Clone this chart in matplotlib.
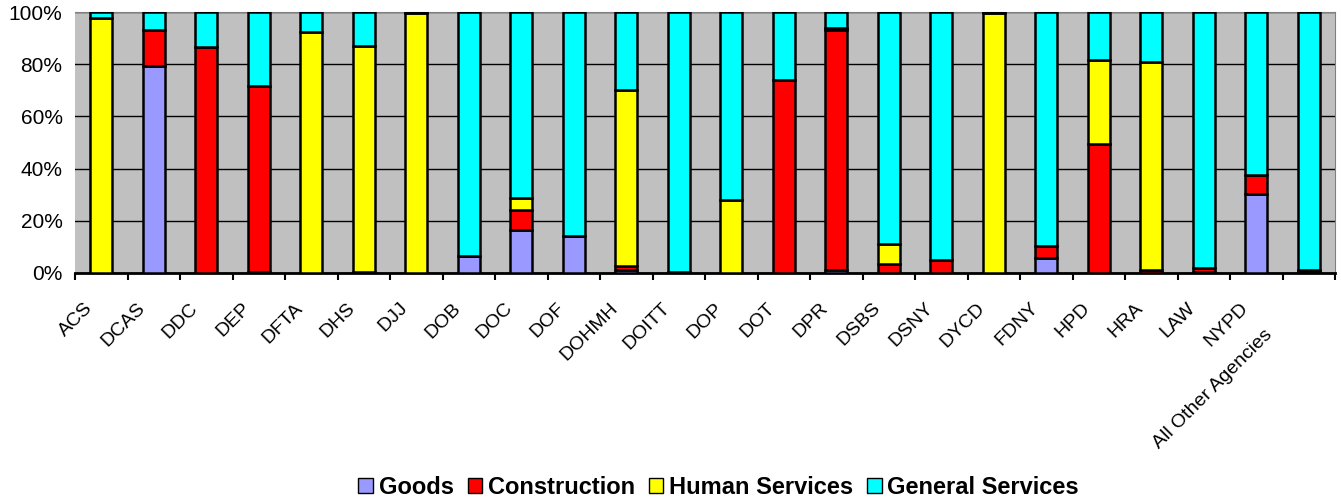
import numpy as np
import matplotlib
matplotlib.use("Agg")
import matplotlib.pyplot as plt
from matplotlib.patches import Patch
from matplotlib.transforms import ScaledTranslation

plt.rcParams['font.family'] = ['Liberation Sans', 'DejaVu Sans']

agencies = ['ACS', 'DCAS', 'DDC', 'DEP', 'DFTA', 'DHS', 'DJJ', 'DOB', 'DOC', 'DOF',
            'DOHMH', 'DOITT', 'DOP', 'DOT', 'DPR', 'DSBS', 'DSNY', 'DYCD', 'FDNY',
            'HPD', 'HRA', 'LAW', 'NYPD', 'All Other Agencies']

# share of each procurement type, percent
goods = [0, 79.3, 0, 0.5, 0, 0.5, 0, 6.6, 16.6, 14.3,
         1.0, 0.5, 0, 0, 1.3, 0, 0, 0, 5.9,
         0, 0, 0.5, 30.4, 0.5]
construction = [0, 13.8, 86.4, 71.2, 0, 0, 0, 0, 7.6, 0,
                1.6, 0, 0, 74.0, 91.8, 3.6, 5.1, 0, 4.6,
                49.5, 1.3, 1.5, 7.0, 0.5]
human = [97.6, 0, 0, 0, 92.3, 86.5, 99.7, 0, 4.6, 0,
         67.6, 0, 28.1, 0, 0.6, 7.6, 0, 99.7, 0,
         32.1, 79.6, 0, 0, 0.3]
general = [2.4, 6.9, 13.6, 28.3, 7.7, 13.0, 0.3, 93.4, 71.2, 85.7,
           29.8, 99.5, 71.9, 26.0, 6.3, 88.8, 94.9, 0.3, 89.5,
           18.4, 19.1, 98.0, 62.6, 98.7]

series = [('Goods', goods, '#9999FF'),
          ('Construction', construction, '#FF0000'),
          ('Human Services', human, '#FFFF00'),
          ('General Services', general, '#00FFFF')]

fig = plt.figure(figsize=(13.41, 5.0), dpi=100)
ax = fig.add_axes([75 / 1341, 1 - 273 / 500, 1260 / 1341, 261 / 500])
ax.set_facecolor('#C0C0C0')

x = np.arange(len(agencies))
bottom = np.zeros(len(agencies))
handles = []
for name, vals, col in series:
    vals = np.array(vals)
    ax.bar(x, vals, 0.42, bottom=bottom, color=col, edgecolor='black',
           linewidth=1.8, zorder=3)
    bottom += vals
    handles.append(Patch(facecolor=col, edgecolor='black', linewidth=1, label=name))

ax.set_xlim(-0.5, len(agencies) - 0.5)
ax.set_ylim(0, 100)
ax.set_yticks(range(0, 101, 20))
ax.set_yticklabels([f'{v}%' for v in range(0, 101, 20)], fontsize=15)
ax.yaxis.grid(True, color='black', linewidth=1, zorder=1)
ax.tick_params(axis='y', length=0, pad=9)

ax.set_xticks(x)
ax.set_xticklabels(agencies, rotation=45, ha='right', rotation_mode='anchor',
                   fontsize=14)
ax.set_xticks(np.arange(-0.5, len(agencies)), minor=True)
ax.tick_params(axis='x', which='major', length=0, pad=14)
ax.tick_params(axis='x', which='minor', length=5, width=1.5, color='black')

# excel-like placement: labels end just left of the bar, last one pushed down
labels = ax.get_xticklabels()
for i, lab in enumerate(labels):
    dx, dy = -17, -7
    if i == len(labels) - 1:
        dx, dy = dx - 28, dy - 27
    lab.set_transform(lab.get_transform() + ScaledTranslation(dx / 100, dy / 100, fig.dpi_scale_trans))

ax.spines['left'].set_visible(False)
ax.spines['top'].set_color('#808080')
ax.spines['right'].set_color('#808080')
ax.spines['bottom'].set_linewidth(2)

fig.legend(handles=handles, loc='center', bbox_to_anchor=(0.536, 0.026), ncol=4,
           frameon=False, prop={'weight': 'bold', 'size': 17},
           handlelength=0.6, handleheight=0.6, handletextpad=0.25, columnspacing=0.6)

fig.savefig('out.png', dpi=100)
